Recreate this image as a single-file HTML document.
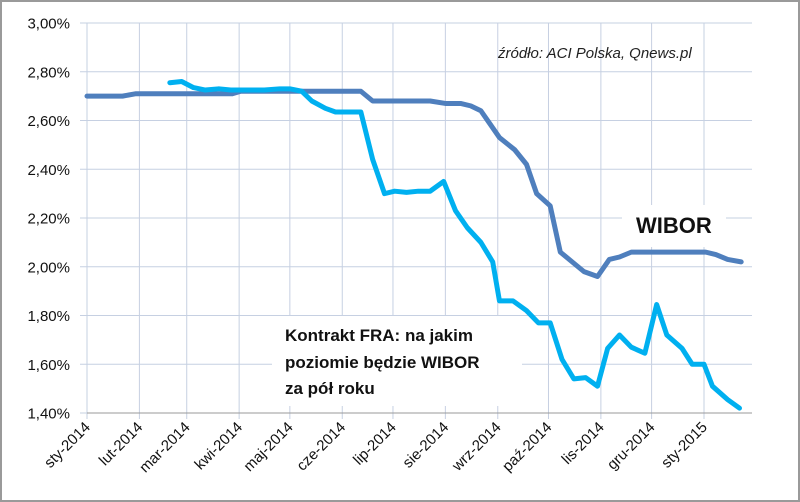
<!DOCTYPE html>
<html><head><meta charset="utf-8"><style>
body{margin:0;background:#fff}
svg{display:block;font-family:"Liberation Sans",sans-serif}
</style></head><body>
<svg width="800" height="502" viewBox="0 0 800 502">
<rect x="1" y="1" width="798" height="500" fill="#fff" stroke="#9a9a9a" stroke-width="2"/>
<g id="grid"></g>
<g id="yt"></g>
<g id="xt"></g>
<rect x="272" y="316" width="250" height="90" fill="#fff"/>
<rect x="622" y="205" width="104" height="42" fill="#fff"/>
<g id="series"></g>
<text x="498" y="58" font-size="15" font-style="italic" fill="#222">źródło: ACI Polska, Qnews.pl</text>
<text x="636" y="233" font-size="22" font-weight="bold" fill="#111">WIBOR</text>
<text font-size="17" font-weight="bold" fill="#111"><tspan x="285" y="341">Kontrakt FRA: na jakim</tspan><tspan x="285" y="368">poziomie będzie WIBOR</tspan><tspan x="285" y="394">za pół roku</tspan></text>
</svg>
<script>
const yTicks=[1.4,1.6,1.8,2.0,2.2,2.4,2.6,2.8,3.0];
const xLabels=["sty-2014","lut-2014","mar-2014","kwi-2014","maj-2014","cze-2014","lip-2014","sie-2014","wrz-2014","paź-2014","lis-2014","gru-2014","sty-2015"];
const xTickDays=[0,31,59,90,120,151,181,212,243,273,304,334,365];
const wiborDays=[0,21,29,86,91,114,120,162,169,203,212,221,227,233,238,244,253,260,266,274,280,287,294,302,309,315,322,366,372,379,387];
const wiborVals=[2.70,2.70,2.71,2.71,2.72,2.72,2.72,2.72,2.68,2.68,2.67,2.67,2.66,2.64,2.59,2.53,2.48,2.42,2.30,2.25,2.06,2.02,1.98,1.96,2.03,2.04,2.06,2.06,2.05,2.03,2.02];
const fraDays=[49,56,63,70,78,85,105,114,120,127,133,141,147,162,169,176,182,189,196,203,211,218,225,233,240,244,252,260,267,274,281,288,295,302,308,315,322,330,337,343,352,358,365,370,379,386];
const fraVals=[2.755,2.76,2.735,2.725,2.73,2.725,2.725,2.73,2.73,2.72,2.68,2.65,2.635,2.635,2.44,2.30,2.31,2.305,2.31,2.31,2.35,2.23,2.16,2.10,2.02,1.86,1.86,1.82,1.77,1.77,1.62,1.54,1.545,1.51,1.665,1.72,1.67,1.645,1.845,1.72,1.665,1.60,1.60,1.51,1.455,1.42];
const X=d=>87+d*(617/365);
const Y=v=>413-(v-1.4)/1.6*390;
const NS="http://www.w3.org/2000/svg";
function mk(t,a,p){const e=document.createElementNS(NS,t);for(const k in a)e.setAttribute(k,a[k]);p.appendChild(e);return e;}
const grid=document.getElementById('grid'),yt=document.getElementById('yt'),xt=document.getElementById('xt'),ser=document.getElementById('series');
yTicks.forEach(v=>{
 const l=mk('line',{x1:80,x2:752,y1:Y(v),y2:Y(v),stroke:'#c6d0e2','stroke-width':1},grid);
 
 
 const t=mk('text',{x:70,y:Y(v)+5.5,'text-anchor':'end','font-size':15,fill:'#111'},yt);
 t.textContent=v.toFixed(2).replace('.',',')+'%';
 
 
});
xTickDays.forEach((d,i)=>{
 const l=mk('line',{x1:X(d),x2:X(d),y1:23,y2:419,stroke:'#c6d0e2','stroke-width':1},grid);
 
 
 const t=mk('text',{x:X(d)+4,y:428,'text-anchor':'end','font-size':15,fill:'#111',transform:`rotate(-45 ${X(d)+4} 428)`},xt);
 t.textContent=xLabels[i];
 
 
});
const ax=mk('line',{x1:87,x2:752,y1:413,y2:413,stroke:'#999','stroke-width':1},xt);


const w=mk('polyline',{points:wiborDays.map((d,i)=>X(d)+','+Y(wiborVals[i])).join(' '),fill:'none',stroke:'#4f7fbd','stroke-width':5,'stroke-linejoin':'round','stroke-linecap':'round'},ser);


const f=mk('polyline',{points:fraDays.map((d,i)=>X(d)+','+Y(fraVals[i])).join(' '),fill:'none',stroke:'#00b0f0','stroke-width':5,'stroke-linejoin':'round','stroke-linecap':'round'},ser);


</script>
</body></html>
